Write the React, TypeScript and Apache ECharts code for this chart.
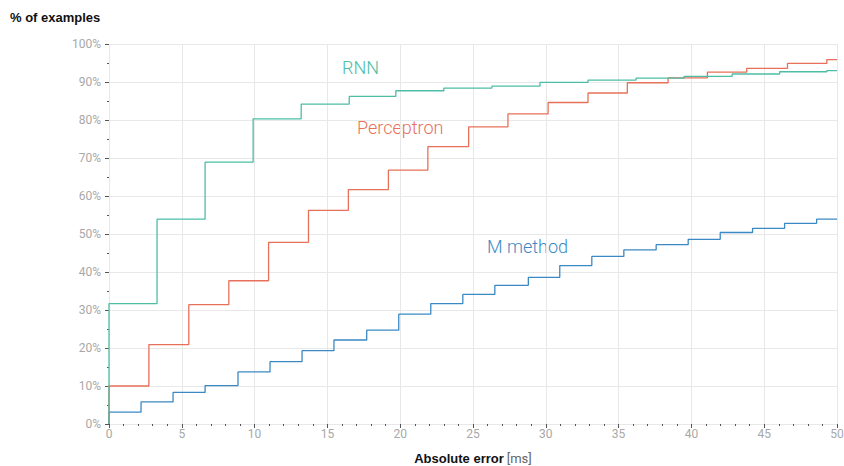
import React, { useEffect, useRef } from "react";
import * as echarts from "echarts";

// Step start positions (ms) and cumulative % values for each method
const rnnX = [0, 0, 3.3, 6.6, 9.9, 13.2, 16.5, 19.7, 23.0, 26.3, 29.6, 32.9, 36.2, 39.5, 42.8, 46.06, 49.3];
const rnnY = [0, 31.7, 53.9, 68.9, 80.3, 84.2, 86.2, 87.7, 88.4, 88.9, 89.9, 90.5, 91.0, 91.5, 92.1, 92.7, 93.0];

const percX = [0, 0, 2.74, 5.48, 8.23, 10.96, 13.7, 16.44, 19.19, 21.9, 24.7, 27.4, 30.16, 32.9, 35.6, 38.4, 41.1, 43.8, 46.6, 49.3];
const percY = [0, 10.0, 20.9, 31.4, 37.7, 47.8, 56.2, 61.7, 66.8, 73.0, 78.2, 81.6, 84.6, 87.1, 89.8, 91.1, 92.6, 93.6, 94.9, 95.9];

const mX = [0, 0, 2.2, 4.4, 6.6, 8.86, 11.06, 13.26, 15.45, 17.7, 19.9, 22.1, 24.3, 26.5, 28.8, 30.96, 33.16, 35.36, 37.58, 39.78, 41.98, 44.2, 46.4, 48.6];
const mY = [0, 3.1, 5.8, 8.3, 10.1, 13.7, 16.4, 19.3, 22.1, 24.7, 28.9, 31.7, 34.1, 36.5, 38.6, 41.7, 44.1, 45.8, 47.2, 48.6, 50.4, 51.5, 52.8, 53.9];

const X_MAX = 50;
const seriesNames = ["RNN", "Perceptron", "M method"];
const colors = ["#4dbda5", "#e8705a", "#3b89c3"];

function toData(xs: number[], ys: number[]) {
  const d = xs.map((x, i) => [x, ys[i]]);
  d.push([X_MAX, ys[ys.length - 1]]);
  return d;
}

export default function App() {
  const ref = useRef<HTMLDivElement>(null);
  useEffect(() => {
    if (!ref.current) return;
    const chart = echarts.init(ref.current, null, { renderer: "svg", width: 844, height: 466 });
    const font = "Roboto, 'Helvetica Neue', Arial, sans-serif";
    const boldFont = "'Liberation Sans', Arial, sans-serif";
    const datasets = [toData(rnnX, rnnY), toData(percX, percY), toData(mX, mY)];
    chart.setOption({
      animation: false,
      textStyle: { fontFamily: font },
      title: {
        text: "% of examples",
        left: 5,
        top: 6,
        textStyle: { fontSize: 13, fontWeight: "bold", color: "#111", fontFamily: boldFont },
      },
      grid: { left: 109, right: 7, top: 44, bottom: 42, containLabel: false, outerBoundsMode: "none" },
      xAxis: {
        type: "value",
        min: 0,
        max: 50,
        interval: 5,
        axisLine: { show: false },
        axisTick: { show: true, length: 4, lineStyle: { color: "#555" } },
        minorTick: { show: true, splitNumber: 5, length: 2, lineStyle: { color: "#555" } },
        axisLabel: { color: "#a8a8a8", fontSize: 12, margin: 4 },
        splitLine: { show: true, lineStyle: { color: "#e8e8e8", width: 1 } },
        name: "{b|Absolute error} {n|[ms]}",
        nameLocation: "middle",
        nameGap: 28,
        nameTextStyle: {
          rich: {
            b: { fontSize: 13, fontWeight: "bold", color: "#111", fontFamily: boldFont },
            n: { fontSize: 13, color: "#666", fontFamily: font },
          },
        },
      },
      yAxis: {
        type: "value",
        min: 0,
        max: 100,
        interval: 10,
        axisLine: { show: false },
        axisTick: { show: true, length: 4, lineStyle: { color: "#555" } },
        minorTick: { show: true, splitNumber: 2, length: 2, lineStyle: { color: "#555" } },
        axisLabel: { color: "#a8a8a8", fontSize: 12, margin: 8, formatter: "{value}%" },
        splitLine: { show: true, lineStyle: { color: "#e8e8e8", width: 1 } },
      },
      series: seriesNames.map((name, i) => ({
        name,
        type: "line",
        step: "end",
        data: datasets[i],
        symbol: "none",
        lineStyle: { color: colors[i], width: 1.3 },
        z: 5 - i,
      })),
      graphic: [
        { type: "text", left: 342, top: 58, style: { text: "RNN", fill: colors[0], font: `300 18px ${font}` } },
        { type: "text", left: 357, top: 118, style: { text: "Perceptron", fill: colors[1], font: `300 18px ${font}` } },
        { type: "text", left: 487, top: 237, style: { text: "M method", fill: colors[2], font: `300 18px ${font}` } },
      ],
    });
    return () => chart.dispose();
  }, []);
  return <div ref={ref} style={{ width: 844, height: 466, position: "absolute", left: 0, top: 0 }} />;
}
